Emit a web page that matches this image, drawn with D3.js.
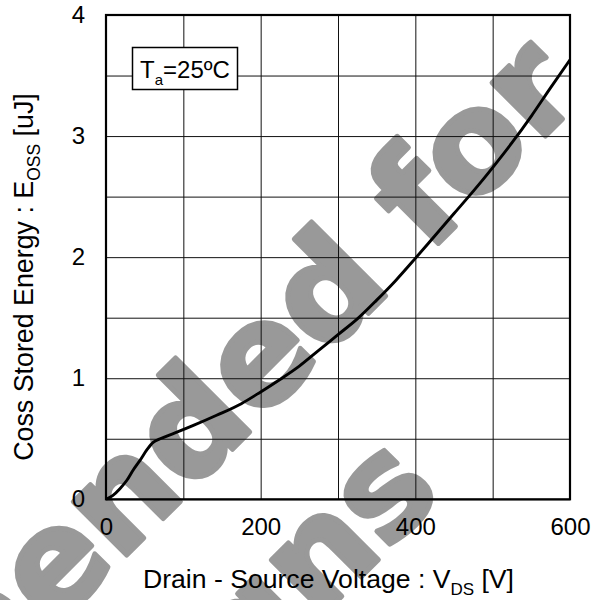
<!DOCTYPE html>
<html><head><meta charset="utf-8">
<script src="https://cdn.jsdelivr.net/npm/d3@7"></script>
<style>body{margin:0;background:#fff}</style>
</head><body>
<script>
// ---- data ----
const voltage = [0, 9, 18, 27, 35, 44, 53, 61, 70, 87, 113, 143, 175, 200, 225, 250, 275, 300, 325, 350, 375, 400, 425, 450, 475, 500, 525, 550, 575, 600];
const energy  = [0, 0.033, 0.088, 0.157, 0.24, 0.322, 0.41, 0.47, 0.50, 0.543, 0.61, 0.694, 0.79, 0.887, 0.99, 1.10, 1.23, 1.36, 1.49, 1.645, 1.81, 1.99, 2.175, 2.36, 2.545, 2.74, 2.945, 3.165, 3.40, 3.63];
const xTicks = [0, 200, 400, 600];
const yTicks = [0, 1, 2, 3, 4];
const xGrid = [0, 100, 200, 300, 400, 500, 600];
const yGrid = [0, 0.5, 1, 1.5, 2, 2.5, 3, 3.5, 4];
const watermarkLines = ["Not Recommended for", "New Designs"];

const W = 601, H = 600;
const svg = d3.select("body").append("svg").attr("width", W).attr("height", H)
  .style("font-family", "'Liberation Sans', Arial, sans-serif");

const x = d3.scaleLinear().domain([0, 600]).range([106, 570]);
const y = d3.scaleLinear().domain([0, 4]).range([499.3, 15]);

// ---- watermark (background) ----
const wm = svg.append("g")
  .attr("fill", "#999").attr("stroke", "#999").attr("stroke-width", 5)
  .attr("stroke-linejoin", "round")
  .style("font-family", "'DejaVu Sans'").style("font-weight", "bold")
  .style("font-size", "138px").attr("text-anchor", "end");
wm.append("text").attr("transform", "translate(585.5,96.2) rotate(-45)").text(watermarkLines[0]);
wm.append("text").attr("transform", "translate(444,494) rotate(-45)").text(watermarkLines[1]);

// ---- grid ----
const ph = y(0) - y(4), pw = x(600) - x(0);
const gx = svg.append("g").attr("transform", `translate(0,${y(0)})`)
  .call(d3.axisBottom(x).tickValues(xGrid).tickSize(-ph).tickFormat(""));
const gy = svg.append("g").attr("transform", `translate(${x(0)},0)`)
  .call(d3.axisLeft(y).tickValues(yGrid).tickSize(-pw).tickFormat(""));
[gx, gy].forEach(g => {
  g.select(".domain").remove();
  g.selectAll("line").attr("stroke", "#111").attr("stroke-width", 1);
});

// ---- legend box ----
svg.append("rect").attr("x", 132.5).attr("y", 47.5).attr("width", 105).attr("height", 42)
  .attr("fill", "#fff").attr("stroke", "#000").attr("stroke-width", 1.5);
const lt = svg.append("text").attr("x", 140).attr("y", 78).style("font-size", "24px").attr("fill", "#000");
lt.append("tspan").text("T");
lt.append("tspan").attr("dy", 7).style("font-size", "15px").text("a");
lt.append("tspan").attr("dy", -7).text("=25ºC");

// ---- curve ----
const pts = voltage.map((v, i) => ({v, e: energy[i]}));
svg.append("path").datum(pts)
  .attr("fill", "none").attr("stroke", "#000").attr("stroke-width", 2.9)
  .attr("stroke-linejoin", "round")
  .attr("d", d3.line().x(d => x(d.v)).y(d => y(d.e)).curve(d3.curveMonotoneX));

// ---- frame ----
svg.append("rect").attr("x", x(0)).attr("y", y(4)).attr("width", pw).attr("height", ph)
  .attr("fill", "none").attr("stroke", "#000").attr("stroke-width", 2.2);

// ---- axes labels ----
const ax = svg.append("g").attr("transform", `translate(0,${y(0)})`)
  .call(d3.axisBottom(x).tickValues(xTicks).tickSize(0).tickPadding(18.7).tickFormat(d3.format("d")));
const ay = svg.append("g").attr("transform", `translate(${x(0)},0)`)
  .call(d3.axisLeft(y).tickValues(yTicks).tickSize(0).tickPadding(21).tickFormat(d3.format("d")));
[ax, ay].forEach(g => {
  g.select(".domain").remove();
  g.selectAll("text").style("font-size", "24px").style("font-family", "'Liberation Sans', Arial, sans-serif").attr("fill", "#000");
});

// ---- axis titles ----
const xt = svg.append("text").attr("x", 143).attr("y", 588).style("font-size", "26.6px").attr("fill", "#000");
xt.append("tspan").text("Drain - Source Voltage : V");
xt.append("tspan").attr("dy", 7).style("font-size", "17px").text("DS");
xt.append("tspan").attr("dy", -7).text(" [V]");

const yt = svg.append("text").attr("transform", "translate(33,277) rotate(-90)")
  .attr("text-anchor", "middle").style("font-size", "26.8px").attr("fill", "#000");
yt.append("tspan").text("Coss Stored Energy : E");
yt.append("tspan").attr("dy", 7).style("font-size", "17.5px").text("OSS");
yt.append("tspan").attr("dy", -7).text(" [uJ]");
</script>
</body></html>
